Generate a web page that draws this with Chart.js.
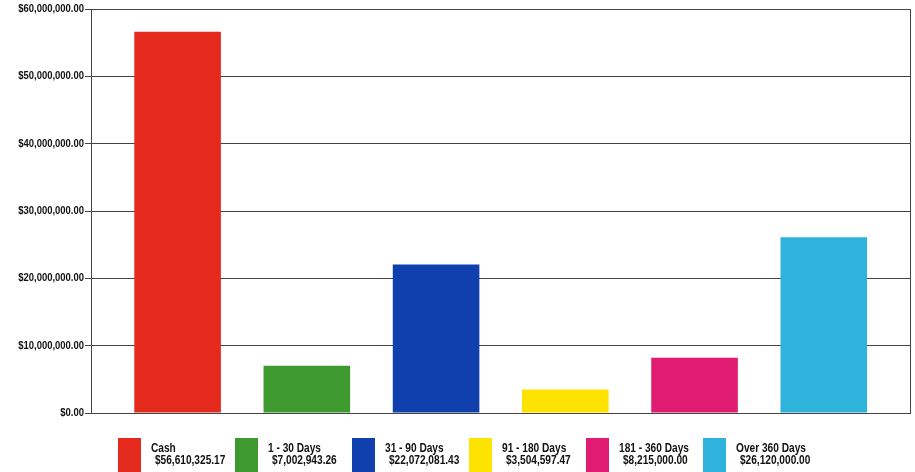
<!DOCTYPE html>
<html>
<head>
<meta charset="utf-8">
<script src="https://cdn.jsdelivr.net/npm/chart.js@4"></script>
<style>
  html, body { margin: 0; padding: 0; background: #fff; }
  #wrap { position: relative; width: 915px; height: 472px; overflow: hidden; }
  #leyenda { position: absolute; left: 118px; top: 438px; height: 34px; }
  .item { position: absolute; top: 0; height: 34px; }
  .caja { position: absolute; left: 0; top: 0; width: 23px; height: 34px; }
  .txt { position: absolute; left: 33px; top: 4px; white-space: nowrap;
         font-family: "Liberation Sans", Arial, sans-serif;
         font-weight: bold; font-size: 13px; line-height: 12px; color: #111;
         transform: scaleX(0.78); transform-origin: 0 0; }
  .txt span { display: block; }
  .txt span + span { padding-left: 5px; }
</style>
</head>
<body>
<div id="wrap">
  <canvas id="grafica" width="915" height="472"></canvas>
  <div id="leyenda"></div>
</div>
<script>
var categorias = ["Cash", "1 - 30 Days", "31 - 90 Days", "91 - 180 Days", "181 - 360 Days", "Over 360 Days"];
var valores = [56610325.17, 7002943.26, 22072081.43, 3504597.47, 8215000.00, 26120000.00];
var colores = ["#e42a1c", "#3e9a2e", "#1040ad", "#ffe300", "#e01c72", "#2fb3dc"];
var ticksY = [0, 10000000, 20000000, 30000000, 40000000, 50000000, 60000000];

function dinero(v) {
    return "$" + Number(v).toLocaleString("en-US", { minimumFractionDigits: 2, maximumFractionDigits: 2 });
}

// leyenda en HTML
var leyenda = document.getElementById("leyenda");
categorias.forEach(function(cat, i) {
    var item = document.createElement("div");
    item.className = "item";
    item.style.left = (i * 117) + "px";
    item.innerHTML = '<div class="caja" style="background:' + colores[i] + '"></div>' +
        '<div class="txt"><span>' + cat + '</span><span>' + dinero(valores[i]) + '</span></div>';
    leyenda.appendChild(item);
});

// etiquetas del eje Y, estrechas como Arial Narrow
var etiquetasY = {
    id: "etiquetasY",
    afterDraw: function(chart) {
        var y = chart.scales.y, ctx = chart.ctx;
        ctx.save();
        ctx.fillStyle = "#111";
        ctx.font = 'bold 11px "Liberation Sans", Arial, sans-serif';
        ctx.textAlign = "right";
        ctx.textBaseline = "middle";
        ticksY.forEach(function(v) {
            ctx.save();
            ctx.translate(84, y.getPixelForValue(v));
            ctx.scale(0.86, 1);
            ctx.fillText(dinero(v), 0, 0);
            ctx.restore();
        });
        ctx.restore();
    }
};

var bordeDerecho = {
    id: "bordeDerecho",
    afterDraw: function(chart) {
        var a = chart.chartArea, ctx = chart.ctx;
        ctx.save();
        ctx.strokeStyle = "#444";
        ctx.lineWidth = 1;
        ctx.beginPath();
        ctx.moveTo(Math.round(a.right) + 0.5, a.top);
        ctx.lineTo(Math.round(a.right) + 0.5, a.bottom);
        ctx.stroke();
        ctx.restore();
    }
};

var ctx = document.getElementById("grafica").getContext("2d");
var grafica = new Chart(ctx, {
    type: "bar",
    data: {
        datasets: [{
            data: valores.map(function(v, i) { return { x: i, y: v }; }),
            backgroundColor: colores,
            borderWidth: 0,
            barPercentage: 0.67,
            categoryPercentage: 1
        }]
    },
    plugins: [etiquetasY, bordeDerecho],
    options: {
        responsive: false,
        animation: false,
        layout: { padding: { top: 9, right: 5, bottom: 59, left: 0 } },
        plugins: { legend: { display: false }, tooltip: { enabled: false } },
        scales: {
            x: {
                type: "linear",
                offset: false,
                min: -0.67,
                max: 5.667,
                afterBuildTicks: function(s) { s.ticks = categorias.map(function(c, i) { return { value: i }; }); },
                ticks: { display: false },
                grid: { display: false },
                border: { display: true, color: "#444", width: 1 },
                afterFit: function(s) { s.height = 0; }
            },
            y: {
                min: 0,
                max: 60000000,
                afterBuildTicks: function(s) { s.ticks = ticksY.map(function(v) { return { value: v }; }); },
                ticks: { display: false },
                grid: { color: "#444", lineWidth: 1, tickLength: 6, drawTicks: true },
                border: { display: true, color: "#444", width: 1 },
                afterFit: function(s) { s.width = 91; }
            }
        }
    }
});
</script>
</body>
</html>
